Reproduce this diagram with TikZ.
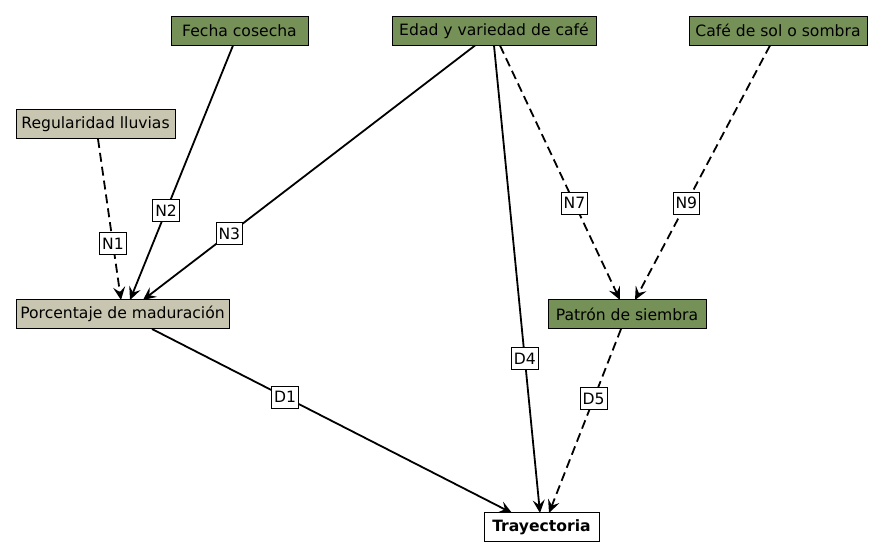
\documentclass[tikz,border=0pt]{standalone}
\usepackage{fontspec}
\setmainfont{DejaVu Sans}
\usetikzlibrary{arrows.meta}
\definecolor{gv}{RGB}{118,145,87}
\definecolor{tan}{RGB}{200,198,176}
\begin{document}
\begin{tikzpicture}[x=1pt,y=-1pt,
  font=\fontsize{15.6}{19}\selectfont,
  box/.style={draw=black,line width=1pt,inner sep=0pt,minimum height=29pt,anchor=center},
  gbox/.style={box,fill=gv},
  tbox/.style={box,fill=tan},
  lab/.style={draw=black,fill=white,solid,line width=0.9pt,inner xsep=2.5pt,inner ysep=0pt,minimum height=22pt,font=\fontsize{15.6}{19}\selectfont},
  edge/.style={line width=1.8pt,-{Stealth[length=13pt,width=12pt,inset=5pt]}},
  dsh/.style={edge,dash pattern=on 9pt off 5pt}]
\useasboundingbox (0,0) rectangle (883,558);
\node[gbox,minimum width=137pt] (fecha) at (239.5,30.5) {Fecha cosecha};
\node[gbox,minimum width=204pt] (edad) at (494,30.5) {Edad y variedad de café};
\node[gbox,minimum width=178pt] (cafe) at (778,30.5) {Café de sol o sombra};
\node[tbox,minimum width=159pt] (reg) at (95.5,124) {Regularidad lluvias};
\node[tbox,minimum width=213pt] (porc) at (122.5,314) {Porcentaje de maduración};
\node[gbox,minimum width=158pt] (patron) at (627,314) {Patrón de siembra};
\node[box,fill=white,minimum width=115pt] (tray) at (541.5,527) {\bfseries Trayectoria};

\draw[dsh] ([xshift=2.5pt]reg.south) -- ([xshift=-1.5pt,yshift=-1pt]porc.north) node[lab,pos=0.65] (n1) {N1};
\draw[edge] ([xshift=-6.5pt]fecha.south) -- ([xshift=7.5pt,yshift=-1pt]porc.north) node[lab,pos=0.65] (n2) {N2};
\draw[edge] ([xshift=-19pt]edad.south) -- ([xshift=20.5pt,yshift=-1pt]porc.north) node[lab,pos=0.74] (n3) {N3};
\draw[dsh] ([xshift=6pt]edad.south) -- ([xshift=-7pt,yshift=-1pt]patron.north) node[lab,pos=0.62] (n7) {N7};
\draw[dsh] ([xshift=-8pt]cafe.south) -- ([xshift=8pt,yshift=-1pt]patron.north) node[lab,pos=0.62] (n9) {N9};
\draw[edge] ([xshift=29.5pt]porc.south) -- ([xshift=-29.5pt,yshift=-1pt]tray.north) node[lab,pos=0.37] (d1) {D1};
\draw[edge] (edad.south) -- ([xshift=-1.5pt,yshift=-1pt]tray.north) node[lab,pos=0.67] (d4) {D4};
\draw[dsh] ([xshift=-6pt]patron.south) -- ([xshift=7.5pt,yshift=-1pt]tray.north) node[lab,pos=0.38] (d5) {D5};
\end{tikzpicture}
\end{document}
